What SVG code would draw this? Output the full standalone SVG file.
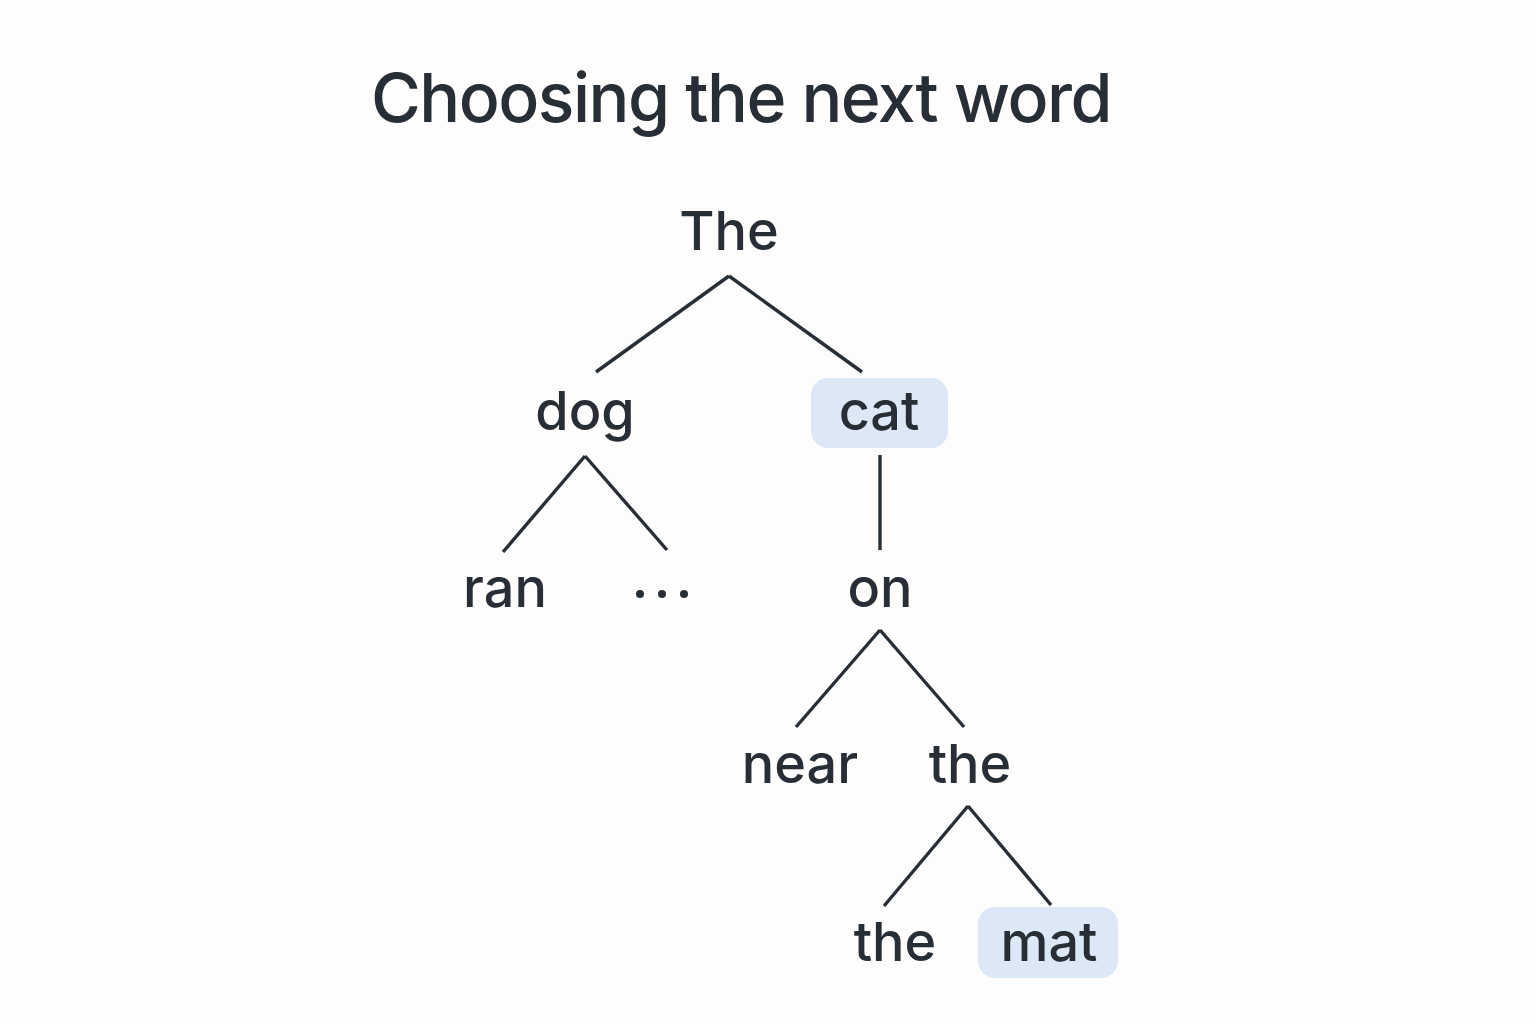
<svg xmlns="http://www.w3.org/2000/svg" width="1536" height="1024" viewBox="0 0 1536 1024">
<style>
.t{font-family:Inter,"Noto Sans","DejaVu Sans",sans-serif;fill:#272e35;text-anchor:middle}
.w{font-size:54px;font-weight:500}
.title{font-size:68px;font-weight:500;letter-spacing:-1.5px}
.hl{fill:#dce8f6}
.e line{stroke:#272e35;stroke-width:3.4;stroke-linecap:butt}
</style>
<rect width="1536" height="1024" fill="#fdfdfd"/>
<text class="t title" x="741" y="122">Choosing the next word</text>
<g class="e" id="connectors">
<line x1="729" y1="276" x2="596" y2="372"/>
<line x1="729" y1="276" x2="862" y2="372"/>
<line x1="585" y1="456" x2="503" y2="552"/>
<line x1="585" y1="456" x2="667" y2="550"/>
<line x1="880" y1="455" x2="880" y2="550"/>
<line x1="880" y1="630" x2="796" y2="727"/>
<line x1="880" y1="630" x2="964" y2="727"/>
<line x1="968" y1="806" x2="884" y2="906"/>
<line x1="968" y1="806" x2="1051" y2="905"/>
</g>
<g id="n-the"><text class="t w" x="729" y="250">The</text></g>
<g id="n-dog"><text class="t w" x="585" y="430">dog</text></g>
<g id="n-cat"><rect class="hl" x="811" y="378" width="137" height="70" rx="17"/><text class="t w" x="879" y="430">cat</text></g>
<g id="n-ran"><text class="t w" x="505" y="607">ran</text></g>
<g id="n-dots"><circle cx="640" cy="594" r="4" fill="#272e35"/><circle cx="662" cy="594" r="4" fill="#272e35"/><circle cx="684" cy="594" r="4" fill="#272e35"/></g>
<g id="n-on"><text class="t w" x="880" y="607">on</text></g>
<g id="n-near"><text class="t w" x="800" y="783">near</text></g>
<g id="n-the2"><text class="t w" x="970" y="783">the</text></g>
<g id="n-the3"><text class="t w" x="895" y="961">the</text></g>
<g id="n-mat"><rect class="hl" x="978" y="907" width="140" height="71" rx="17"/><text class="t w" x="1049" y="961">mat</text></g>
</svg>
